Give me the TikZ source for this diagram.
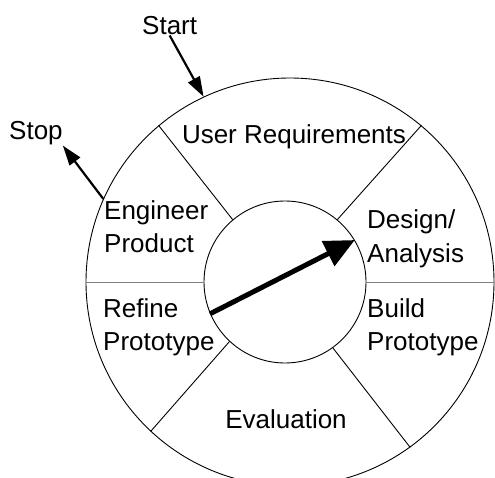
\documentclass[tikz,border=0pt]{standalone}
\usepackage{fontspec}
\setmainfont{Liberation Sans}
\usetikzlibrary{arrows.meta}
\begin{document}
\begin{tikzpicture}[x=1pt, y=-1pt,
    rotulo/.style={inner sep=0pt, align=left, font=\fontsize{26}{33}\selectfont},
    divisa/.style={line width=0.9pt},
    seta/.style={line width=2.2pt, -{Triangle[length=20pt, width=13pt]}}]
        \useasboundingbox (0,0) rectangle (495,478);

        % Círculos do ciclo
        \node[draw, circle, minimum size=408pt, inner sep=0pt, line width=0.9pt] (externo) at (290,282) {};
        \node[draw, circle, minimum size=162pt, inner sep=0pt, line width=0.9pt] (interno) at (285,282) {};

        % Divisões entre as fases
        \draw[divisa] (interno.130.6) -- (externo.130.6);
        \draw[divisa] (interno.50.8) -- (externo.50.8);
        \draw[divisa] (interno.227) -- (externo.227);
        \draw[divisa] (interno.306) -- (externo.306);
        \draw[divisa, gray] (interno.180) -- (externo.180);
        \draw[divisa, gray] (interno.0) -- (externo.0);

        % Fases
        \node[rotulo, anchor=base] (usuario) at (294,144) {User Requirements};
        \node[rotulo, anchor=base west] (projeto) at (367,262) {Design/\\Analysis};
        \node[rotulo, anchor=base west] (construir) at (367,350) {Build\\Prototype};
        \node[rotulo, anchor=base] (avaliacao) at (286,428) {Evaluation};
        \node[rotulo, anchor=base west] (refinar) at (103,350) {Refine\\Prototype};
        \node[rotulo, anchor=base west] (engenharia) at (104,253) {Engineer\\Product};

        % Início e fim
        \node[rotulo, anchor=base west] (inicio) at (142,35) {Start};
        \node[rotulo, anchor=base west] (fim) at (9,140) {Stop};
        \draw[seta] (inicio.south) -- (externo.115.6);
        \draw[seta] (externo.156.4) -- (fim.south east);

        % Seta central
        \draw[line width=5pt, -{Triangle[length=30pt, width=27pt]}] (interno.203) -- (interno.31);
      \end{tikzpicture}
\end{document}
